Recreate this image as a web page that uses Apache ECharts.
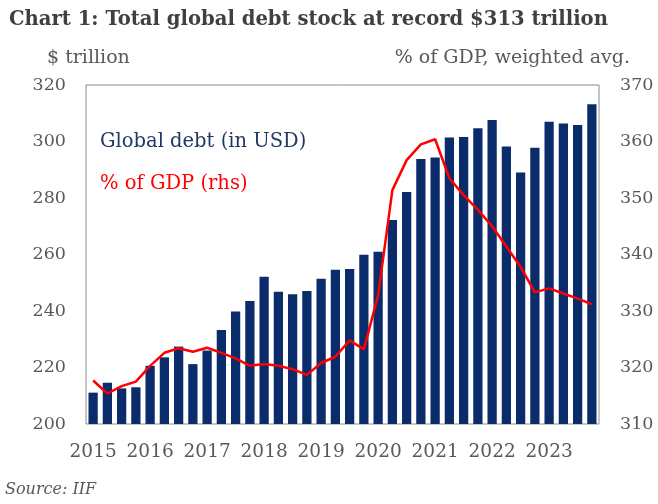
<!DOCTYPE html>
<html>
<head>
<meta charset="utf-8">
<script src="https://cdn.jsdelivr.net/npm/echarts@6/dist/echarts.min.js"></script>
<style>
  html, body {margin: 0; padding: 0; background: #fff;}
  #chart {width: 658px; height: 504px;}
</style>
</head>
<body>
<div id="chart"></div>
<script>
const quarters = [];
const years = ['2015', '2016', '2017', '2018', '2019', '2020', '2021', '2022', '2023'];
years.forEach(y => ['Q1', 'Q2', 'Q3', 'Q4'].forEach(q => quarters.push(y + ' ' + q)));

// global debt, $ trillion
const debt = [
  211.1, 214.6, 212.6, 213.0, 220.6, 223.6, 227.4, 221.2, 226.0, 233.3, 239.8, 243.5,
  252.1, 246.8, 245.9, 247.1, 251.4, 254.6, 254.9, 259.9, 261.0, 272.2, 282.1, 293.8,
  294.3, 301.4, 301.6, 304.7, 307.6, 298.2, 289.0, 297.8, 307.0, 306.4, 305.8, 313.2
];
// % of GDP, weighted avg (rhs)
const gdpPct = [
  317.7, 315.4, 316.7, 317.5, 320.3, 322.6, 323.4, 322.8, 323.5, 322.6, 321.6, 320.3,
  320.6, 320.3, 319.7, 318.7, 320.8, 321.9, 324.8, 323.2, 332.8, 351.4, 356.7, 359.5,
  360.4, 353.5, 350.5, 347.9, 345.0, 341.4, 337.8, 333.3, 334.0, 333.1, 332.2, 331.2
];

const serif = '"DejaVu Serif", "Liberation Serif", serif';
const grey = '#595959';

const chart = echarts.init(document.getElementById('chart'));
chart.setOption({
  animation: false,
  textStyle: {fontFamily: serif},
  title: {
    text: 'Chart 1: Total global debt stock at record $313 trillion',
    left: 4,
    top: 5,
    textStyle: {fontFamily: serif, fontSize: 19.6, fontWeight: 'bold', color: '#404040'}
  },
  graphic: [
    {type: 'text', left: 47, top: 49, style: {text: '$ trillion', font: '19px ' + serif, fill: grey}},
    {type: 'text', right: 28, top: 49, style: {text: '% of GDP, weighted avg.', font: '19px ' + serif, fill: grey}},
    {type: 'text', left: 5, top: 482, style: {text: 'Source: IIF', font: 'italic 16px ' + serif, fill: grey}}
  ],
  legend: {
    orient: 'vertical',
    left: 90,
    top: 127,
    icon: 'none',
    itemWidth: 0,
    itemGap: 22,
    textStyle: {fontFamily: serif, fontSize: 19.5},
    data: [
      {name: 'Global debt (in USD)', textStyle: {color: '#1F3864'}},
      {name: '% of GDP (rhs)', textStyle: {color: '#FF0000'}}
    ]
  },
  grid: {
    left: 86, right: 59, top: 85, bottom: 80,
    show: true, borderColor: '#8c8c8c', borderWidth: 1, backgroundColor: 'transparent'
  },
  xAxis: {
    type: 'category',
    data: quarters,
    axisLine: {show: false},
    axisTick: {show: false},
    axisLabel: {
      interval: 3,
      margin: 19,
      fontSize: 18.5,
      color: grey,
      formatter: v => v.slice(0, 4)
    }
  },
  yAxis: [
    {
      type: 'value', min: 200, max: 320, interval: 20,
      axisLine: {show: false}, axisTick: {show: false}, splitLine: {show: false},
      axisLabel: {margin: 20, fontSize: 17.5, color: grey}
    },
    {
      type: 'value', min: 310, max: 370, interval: 10,
      axisLine: {show: false}, axisTick: {show: false}, splitLine: {show: false},
      axisLabel: {margin: 21, fontSize: 17.5, color: grey}
    }
  ],
  series: [
    {
      name: 'Global debt (in USD)',
      type: 'bar',
      data: debt,
      barCategoryGap: '35%',
      itemStyle: {color: '#0B2C6B'}
    },
    {
      name: '% of GDP (rhs)',
      type: 'line',
      yAxisIndex: 1,
      data: gdpPct,
      symbol: 'none',
      lineStyle: {color: '#FF0000', width: 2.5},
      itemStyle: {color: '#FF0000'},
      z: 3
    }
  ]
});
</script>
</body>
</html>
